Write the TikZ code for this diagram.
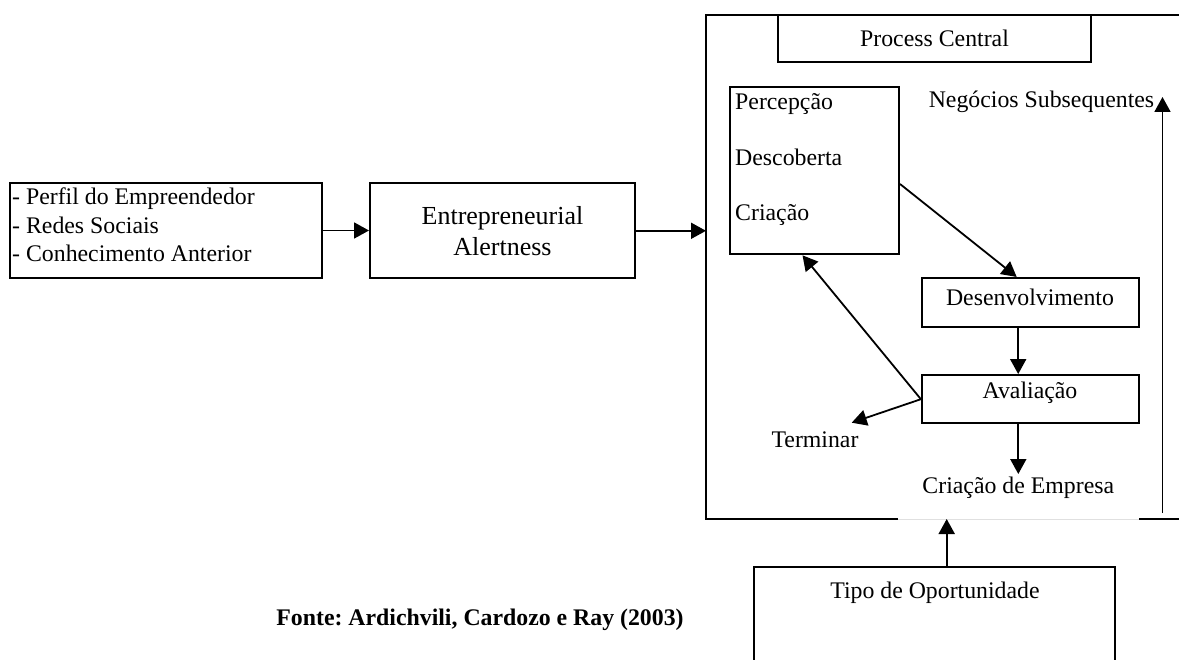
\documentclass[tikz,border=0pt]{standalone}
\usepackage{fontspec}
\setmainfont{Liberation Serif}
\usetikzlibrary{arrows.meta,calc}
\frenchspacing
\newcommand\fsn{\fontsize{23.8}{28.3}\selectfont}
\newcommand\fsb{\fontsize{26}{30.7}\selectfont}
\begin{document}
\begin{tikzpicture}[x=1pt,y=-1pt,
  boxn/.style={draw, line width=2pt, inner sep=0pt},
  frame/.style={line width=2pt},
  arr/.style={line width=1.8pt, -{Triangle[length=15pt,width=16pt]}},
  txt/.style={font=\fsn, inner sep=0pt}]
\useasboundingbox (0,0) rectangle (1179,660);
% left box
\node[boxn, minimum width=312pt, minimum height=95pt] (prof) at (166,230.5) {};
\node[txt, align=left, anchor=west] (proft) at (12,225) {- Perfil do Empreendedor\\- Redes Sociais\\- Conhecimento Anterior};
% entrepreneurial alertness
\node[boxn, minimum width=265pt, minimum height=95pt, align=center, font=\fsb] (ea) at (502.5,230.8) {Entrepreneurial\\Alertness};
% big frame
\coordinate (btl) at (706,15);
\coordinate (bbl) at (706,519);
\coordinate (gapl) at (898,519);
\coordinate (gapr) at (1139,519);
\coordinate (btr) at (1185,15);
\coordinate (bbr) at (1185,519);
\draw[frame] (btr) -- (btl) -- (bbl) -- (gapl);
\draw[frame] (gapr) -- (bbr);
\draw[line width=0.6pt, black!12] (gapl) -- (gapr);
% process central
\node[boxn, minimum width=313pt, minimum height=47pt, font=\fsn] (pc) at (934.5,38.5) {Process Central};
% perception box
\node[boxn, minimum width=169pt, minimum height=167.6pt] (perc) at (814.5,170.5) {};
\node[inner sep=0pt, align=left, anchor=west, font=\fontsize{23.8}{55.5}\selectfont] (perct) at (735,160) {Percepção\\Descoberta\\Criação};
% negocios
\node[txt] (neg) at (1041.5,102) {Negócios Subsequentes};
\coordinate (nsb) at (1162.5,513);
\coordinate (nst) at (1162.5,97);
% desenvolvimento
\node[boxn, minimum width=217pt, minimum height=48.7pt] (des) at (1030.2,302.3) {};
\node[txt] (dest) at (1030,297) {Desenvolvimento};
% avaliacao
\node[boxn, minimum width=216.6pt, minimum height=48.3pt] (ava) at (1030.2,399.2) {};
\node[txt] (avat) at (1030,393) {Avaliação};
% terminar
\node[txt] (term) at (815,440) {Terminar};
\coordinate (termtip) at (851.7,422.7);
% criacao de empresa
\node[txt, inner sep=3pt] (cria) at (1018.3,488) {Criação de Empresa};
% tipo de oportunidade
\coordinate (tbl) at (754,665);
\coordinate (ttl) at (754,567);
\coordinate (ttr) at (1115,567);
\coordinate (tbr) at (1115,665);
\draw[frame] (tbl) -- (ttl) -- (ttr) -- (tbr);
\node[txt] (tipo) at (935,593) {Tipo de Oportunidade};
\coordinate (tipon) at (946.7,567);
% fonte
\node[txt, font=\fsn\bfseries] (fonte) at (480,620) {Fonte: Ardichvili, Cardozo e Ray (2003)};
% arrows
\draw[arr] (prof.east) -- (prof.east -| ea.west);
\draw[arr] (ea.east) -- (ea.east -| btl);
\draw[arr] ([yshift=-13.5pt]perc.east) -- ([xshift=-13.5pt]des.north);
\draw[arr] ([xshift=-12pt]des.south) -- ([xshift=-12pt]ava.north);
\draw[arr] (ava.west) -- ([xshift=-12pt]perc.south);
\draw[arr] (ava.west) -- (termtip);
\draw[arr] (ava.south -| cria.north) -- (cria.north);
\draw[arr] (tipon) -- (tipon |- bbl);
\draw[arr] (nsb) -- (nst);
\end{tikzpicture}
\end{document}
